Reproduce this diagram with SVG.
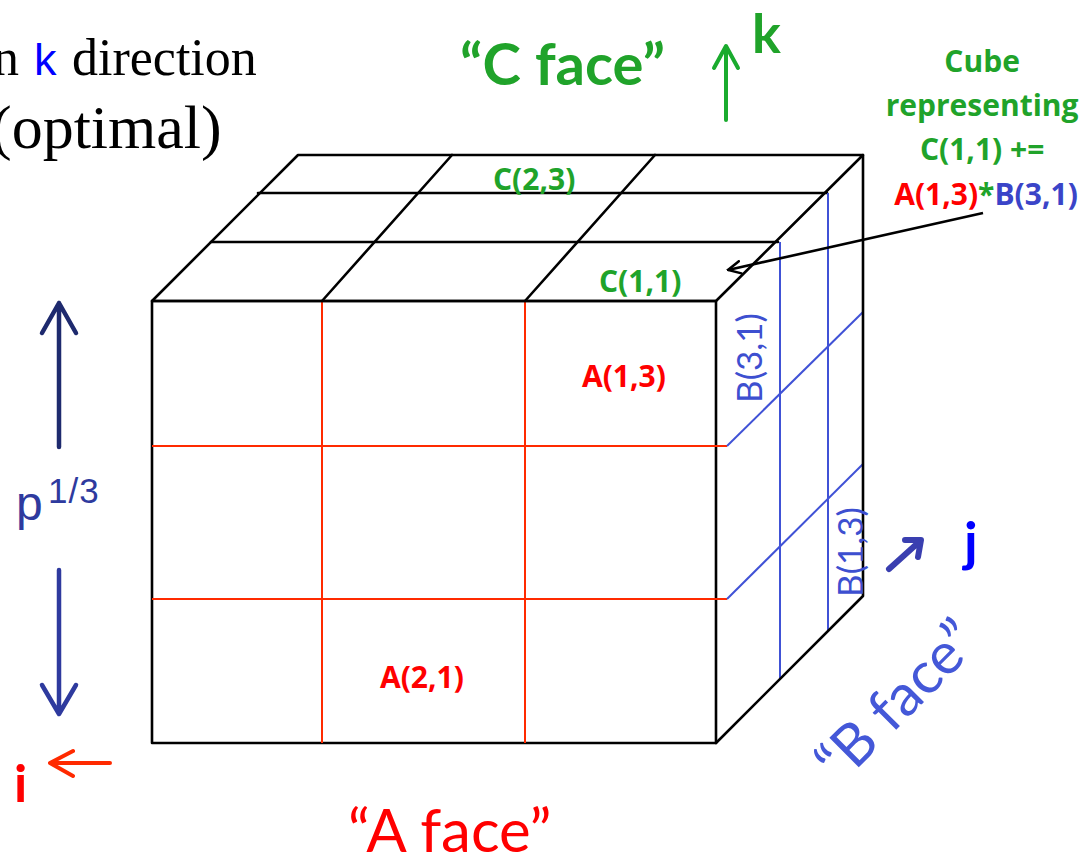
<svg xmlns="http://www.w3.org/2000/svg" width="1091" height="855" viewBox="0 0 1091 855">
<defs>
<style>
.blk{stroke:#000;stroke-width:2.6;fill:none;stroke-linecap:round;stroke-linejoin:round}
.red{stroke:#ff2a00;stroke-width:2;fill:none}
.blu{stroke:#4052d6;stroke-width:2;fill:none}
.cal{font-family:Lato,"Open Sans","Liberation Sans",sans-serif}
.os{font-family:"Open Sans",Lato,"Liberation Sans",sans-serif}
.b{font-weight:bold}
.g{fill:#20a32a}
.r{fill:#ff0000}
.bl{fill:#3d4fd0}
.tnr{font-family:"Liberation Serif","Times New Roman",serif;fill:#000}
</style>
<marker id="openhead" viewBox="0 0 10 10" refX="9" refY="5" markerWidth="6" markerHeight="6" orient="auto" markerUnits="strokeWidth">
<path d="M1,1 L9,5 L1,9" fill="none" stroke="#000" stroke-width="1.6" stroke-linecap="round"/>
</marker>
</defs>
<rect width="1091" height="855" fill="#fff"/>

<g id="title">
<text class="tnr" x="19" y="75" font-size="52" text-anchor="end">n</text>
<text x="34" y="75" font-size="45" fill="#0000ff" font-family="'Liberation Sans',Arial,sans-serif">k</text>
<text class="tnr" x="72" y="75" font-size="52">direction</text>
<text class="tnr" x="-9" y="148" font-size="62">(optimal)</text>
</g>

<g id="cube">
<g id="front-face">
<rect x="152" y="301" width="564" height="442" class="blk"/>
<line x1="322" y1="301" x2="322" y2="743" class="red"/>
<line x1="525" y1="301" x2="525" y2="743" class="red"/>
<line x1="152" y1="446" x2="727" y2="446" class="red"/>
<line x1="152" y1="599" x2="727" y2="599" class="red"/>
</g>
<g id="top-face">
<polygon points="152,301 298,155 863,155 716,301" class="blk"/>
<line x1="258" y1="193" x2="827" y2="193" class="blk"/>
<line x1="211" y1="242" x2="778" y2="242" class="blk"/>
<line x1="322" y1="301" x2="452" y2="155" class="blk"/>
<line x1="525" y1="301" x2="655" y2="155" class="blk"/>
</g>
<g id="right-face">
<line x1="780" y1="242" x2="780" y2="679" class="blu"/>
<line x1="828" y1="193" x2="828" y2="632" class="blu"/>
<line x1="727" y1="446" x2="863" y2="312" class="blu"/>
<line x1="727" y1="599" x2="863" y2="464" class="blu"/>
<polyline points="863,155 863,596 716,743" class="blk"/>
</g>
</g>

<g id="labels">
<text class="os b g" x="493" y="190" font-size="30">C(2,3)</text>
<text class="os b g" x="599" y="292" font-size="30">C(1,1)</text>
<text class="os b r" x="582" y="387" font-size="30">A(1,3)</text>
<text class="os b r" x="380" y="688" font-size="30">A(2,1)</text>
<text class="cal bl" font-size="35" transform="translate(762,403) rotate(-90)">B(3,1)</text>
<text class="cal bl" font-size="35" transform="translate(863,597) rotate(-90)">B(1,3)</text>
</g>

<g id="annotation">
<text class="os b g" text-anchor="middle" font-size="30">
<tspan x="986" y="72">Cube</tspan>
<tspan x="986" y="116">representing</tspan>
<tspan x="986" y="160">C(1,1) +=</tspan>
<tspan x="986" y="205"><tspan class="r">A(1,3)</tspan>*<tspan fill="#3a44c8">B(3,1)</tspan></tspan>
</text>
</g>

<g id="face-labels">
<text class="cal b g" x="460" y="85" font-size="58">“C face”</text>
<text class="cal b g" x="752" y="53" font-size="54">k</text>
<text class="cal r" x="348" y="852" font-size="60">“A face”</text>
<text class="cal" fill="#4458d8" font-size="58" transform="translate(840,786) rotate(-45)">“B face”</text>
<text class="cal b" fill="#0000ff" x="964" y="561" font-size="54">j</text>
<text class="cal b r" x="14" y="802" font-size="52">i</text>
<text font-family="'Liberation Sans',Arial,sans-serif" fill="#2e3a9e" x="16" y="520" font-size="48">p<tspan x="48" y="503" font-size="35" letter-spacing="1">1/3</tspan></text>
</g>

<g id="connectors">
<line x1="983" y1="213" x2="728" y2="270" stroke="#000" stroke-width="2.6" marker-end="url(#openhead)"/>
<g fill="none" stroke-linecap="round" stroke-linejoin="round">
<path d="M726,120 V47 M714,68 L726,46 L738,68" stroke="#1aab2e" stroke-width="4"/>
<path d="M59,447 V303 M42,333 L59,303 L76,333" stroke="#1e2a6e" stroke-width="4.5"/>
<path d="M59,570 V714 M42,685 L59,714 L76,685" stroke="#2e3a9e" stroke-width="4.5"/>
<path d="M110,763 H50 M73,751 L50,763 L73,776" stroke="#ff2a00" stroke-width="4"/>
<path d="M889,569 L919,542 M905,540 L921,540 L918,557" stroke="#3a3fb0" stroke-width="6"/>
</g>
</g>
</svg>
